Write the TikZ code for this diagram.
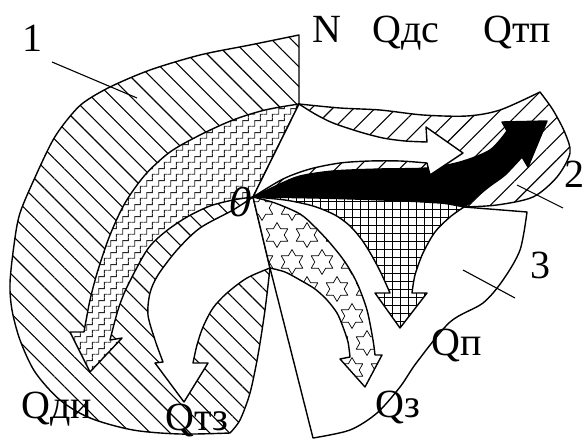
\documentclass[tikz,border=0pt]{standalone}
\usepackage{fontspec}
\setmainfont{Liberation Serif}
\usetikzlibrary{patterns,patterns.meta}

\tikzdeclarepattern{
  name=stairs,
  type=uncolored,
  bottom left={(0pt,0pt)},
  top right={(12pt,12pt)},
  tile size={(12pt,12pt)},
  code={
    \tikzset{x=1pt,y=1pt}
    \draw[line width=0.9pt] (-0.5,3) -- (3,3) -- (3,9) -- (9,9) -- (9,12.5);
    \draw[line width=0.9pt] (9,-0.5) -- (9,3) -- (12.5,3);
  }
}

\newcommand\mystarshape[2]{%
  \draw[line width=0.7pt] (#1,#2) +(90:12.5) -- +(120:7.2) -- +(150:12.5) -- +(180:7.2) -- +(210:12.5) -- +(240:7.2) -- +(270:12.5) -- +(300:7.2) -- +(330:12.5) -- +(0:7.2) -- +(30:12.5) -- +(60:7.2) -- cycle;}

\def\starpath{(253,197) -- (270,268)
  -- plot[smooth] coordinates {(270,268) (285,272) (300,280) (315,289) (327,300) (337,313) (343,327) (348,342) (350,357)}
  -- (340,359) -- (365,387) -- (382,355) -- (375,355)
  -- plot[smooth] coordinates {(375,355) (373,340) (367,310) (357,283) (345,262) (330,243) (315,227) (300,214) (275,203) (253,197)}
  -- cycle}

\begin{document}
\begin{tikzpicture}[x=1pt,y=-1pt,line join=round,
  outl/.style={line width=1.4pt},
  ptr/.style={line width=1.1pt},
  lab/.style={font=\fontsize{40}{48}\selectfont, inner sep=0pt, anchor=base}]
\useasboundingbox (0,0) rectangle (585,441);
\coordinate (N) at (299,35);
\coordinate (P) at (299,104);
\coordinate (O) at (253,197);
\coordinate (S) at (270,268);
\coordinate (T) at (313,438);

% region 1
\draw[outl, pattern={Lines[angle=-45,distance=14pt,line width=1.1pt]}]
 (N) -- (P) -- (O) -- (S)
 -- plot[smooth] coordinates {(270,268) (265,310) (258,355) (250,393) (240,420) (230,433)}
 -- plot[smooth] coordinates {(230,433) (180,434) (133,430) (90,418) (60,400) (35,372) (20,340) (12,310) (10,283) (14,245) (20,213) (37,173) (53,140) (67,120) (83,103) (110,87) (150,70) (200,55) (250,45) (299,35)}
 -- cycle;

% region 2
\draw[outl, pattern={Lines[angle=45,distance=15pt,line width=1.1pt]}]
 (P) -- plot[smooth] coordinates {(299,104) (340,108) (380,110) (423,115) (467,116) (500,110) (540,92)}
 -- plot[smooth] coordinates {(540,92) (553,110) (565,133) (570,153) (557,177) (533,197) (497,205) (464,207)}
 -- plot[smooth] coordinates {(464,207) (440,203) (383,200) (317,198) (253,197)} -- cycle;

% region 3
\draw[outl] (S) -- (T) -- plot[smooth] coordinates {(313,438) (350,430) (377,413) (400,387) (417,362) (450,322) (483,303) (503,280) (520,250) (527,212)} -- (464,207);

% Q_di zigzag arrow
\draw[outl, preaction={fill=white}, pattern=stairs, pattern color=black!85]
 plot[smooth] coordinates {(299,104) (265,110) (233,120) (200,135) (170,152) (145,175) (125,203) (110,235) (98,270) (90,300) (84,332)}
 -- (70,332) -- (90,372) -- (122,338) -- (110,340)
 -- plot[smooth] coordinates {(110,340) (118,310) (127,287) (147,250) (165,232) (187,217) (210,206) (233,200) (253,197)}
 -- cycle;

% Q_tz white arrow
\draw[outl, fill=white]
 plot[smooth] coordinates {(253,197) (233,210) (200,228) (177,250) (158,275) (150,293) (148,315) (155,340) (163,362)}
 -- (155,363) -- (184,402) -- (208,363) -- (193,363)
 -- plot[smooth] coordinates {(193,363) (197,345) (203,327) (213,308) (227,293) (247,278) (270,268)}
 -- cycle;

% Q_z star arrow
\begin{scope}
 \clip \starpath;
 \fill[white] \starpath;
 \foreach \j in {0,...,8} {
   \foreach \i in {-1,...,5} {
     \pgfmathsetmacro\sx{262 + 30*\i + 15*mod(\j,2)}
     \pgfmathsetmacro\sy{208 + 27*\j}
     \mystarshape{\sx}{\sy}
   }
 }
\end{scope}
\draw[outl] \starpath;

% Q_p grid arrow
\draw[outl, preaction={fill=white}, pattern={Hatch[distance=8pt,line width=0.7pt]}]
 plot[smooth] coordinates {(253,197) (285,200) (313,206) (335,215) (350,226) (362,240) (372,256) (381,273) (390,293)}
 -- (375,293) -- (400,328) -- (427,293) -- (412,293)
 -- plot[smooth] coordinates {(412,293) (415,275) (423,253) (435,232) (450,217) (464,207)}
 -- plot[smooth] coordinates {(464,207) (440,202) (383,198) (317,196) (253,197)};

% Q_tp black arrow
\draw[outl, fill=black]
 plot[smooth] coordinates {(253,197) (280,184) (300,176) (333,171) (380,169) (427,168) (460,162) (490,150) (507,131)}
 -- (502,122) -- (547,121) -- (528,167) -- (522,157)
 -- plot[smooth] coordinates {(522,157) (505,175) (490,186) (475,198) (464,206) (440,203) (383,200) (317,198) (253,197)}
 -- cycle;

% Q_dc white arrow
\draw[outl, fill=white]
 plot[smooth] coordinates {(299,104) (315,114) (333,123) (360,132) (383,138) (405,141) (427,142)}
 -- (426,127) -- (463,153) -- (430,175) -- (427,163)
 -- plot[smooth] coordinates {(427,163) (400,161) (370,161) (340,163) (310,169) (283,179) (253,197)}
 -- cycle;

% pointers
\coordinate (p1a) at (52,62);  \coordinate (p1b) at (137,98);
\coordinate (p2a) at (517,185); \coordinate (p2b) at (563,208);
\coordinate (p3a) at (463,270); \coordinate (p3b) at (515,298);
\draw[ptr] (p1a) -- (p1b);
\draw[ptr] (p2a) -- (p2b);
\draw[ptr] (p3a) -- (p3b);

% labels
\node[lab] (l1) at (32,52) {1};
\node[lab] (lN) at (327,43) {N};
\node[lab] (lQdc) at (406,43) {Qдс};
\node[lab] (lQtp) at (517,43) {Qтп};
\node[lab, anchor=base east] (l2) at (585,187) {2};
\node[lab] (l3) at (540,278) {3};
\node[lab] (lQp) at (457,355) {Qп};
\node[lab] (lQz) at (398,417) {Qз};
\node[lab] (lQdi) at (57,418) {Qди};
\node[lab] (lQtz) at (197,430) {Qтз};
\node[font=\fontsize{44}{48}\selectfont\itshape, inner sep=0pt] (l0) at (240,202) {0};
\end{tikzpicture}
\end{document}
